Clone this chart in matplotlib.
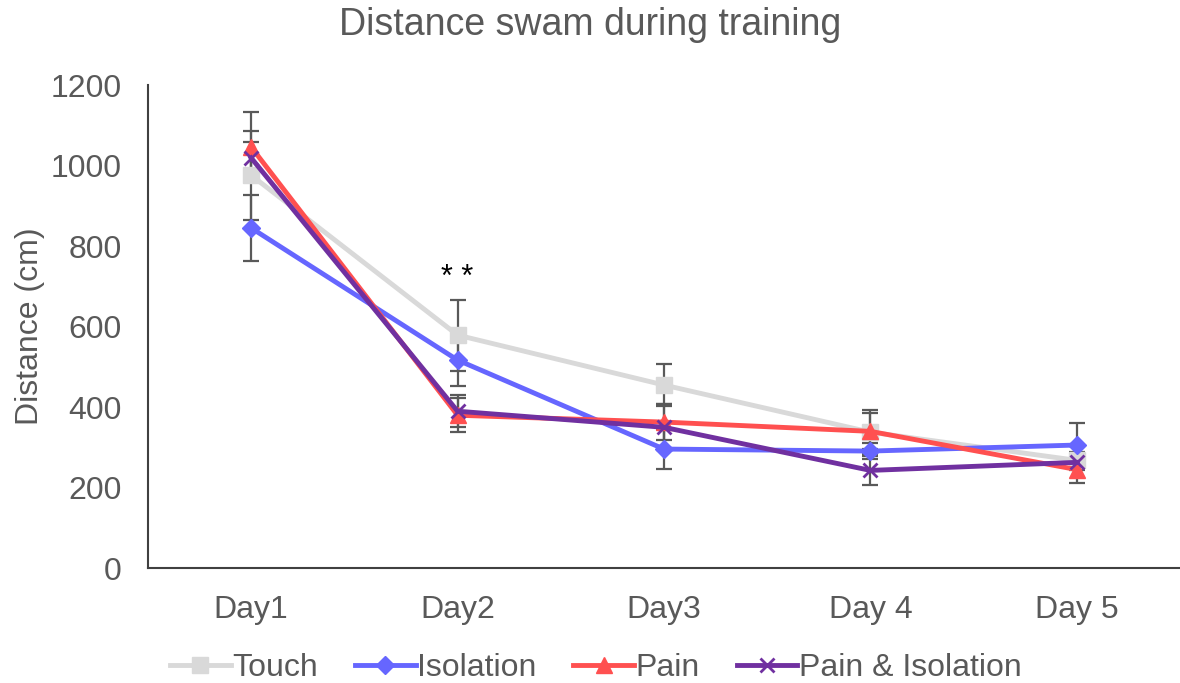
import matplotlib

matplotlib.use("Agg")
import matplotlib.pyplot as plt

plt.rcParams["font.family"] = ["Liberation Sans", "DejaVu Sans"]

days = ["Day1", "Day2", "Day3", "Day 4", "Day 5"]

touch = [976, 579, 455, 338, 268]
touch_err = [110, 88, 52, 55, 20]
isolation = [845, 517, 296, 291, 306]
isolation_err = [82, 65, 50, 20, 54]
pain = [1046, 380, 363, 340, 245]
pain_err = [87, 42, 45, 45, 34]
pain_iso = [1019, 390, 350, 243, 263]
pain_iso_err = [40, 40, 57, 37, 20]

series = [
    ("Touch", touch, touch_err, "#D9D9D9", "s", 11),
    ("Isolation", isolation, isolation_err, "#6666FF", "D", 9),
    ("Pain", pain, pain_err, "#FF5050", "^", 11),
    ("Pain & Isolation", pain_iso, pain_iso_err, "#7030A0", "x", 10),
]

TEXT = "#595959"

fig = plt.figure(figsize=(11.8, 6.83), dpi=100)
ax = fig.add_axes([0.1254, 0.168, 0.8746, 0.7075])

x = list(range(len(days)))
for name, ys, err, color, marker, ms in series:
    ax.errorbar(x, ys, yerr=err, fmt="none", ecolor="#595959",
                elinewidth=1.6, capsize=6, capthick=1.6, zorder=2)
    ax.plot(x, ys, color=color, lw=3.5, marker=marker, ms=ms,
            mew=2 if marker == "x" else 1, mec=color, mfc=color,
            label=name, zorder=3)

ax.text(1, 720, "* *", ha="center", va="center", fontsize=22, color="black")

ax.set_xlim(-0.5, 4.5)
ax.set_ylim(0, 1200)
ax.set_yticks(range(0, 1201, 200))
ax.set_xticks(x)
ax.set_xticklabels(days)
ax.tick_params(axis="both", length=0, labelsize=23, labelcolor=TEXT)
ax.tick_params(axis="x", pad=19)
ax.tick_params(axis="y", pad=19)
for s in ("top", "right"):
    ax.spines[s].set_visible(False)
for s in ("left", "bottom"):
    ax.spines[s].set_color("#404040")
    ax.spines[s].set_linewidth(1.5)

ax.set_ylabel("Distance (cm)", fontsize=23, color=TEXT, labelpad=4)
fig.suptitle("Distance swam during training", x=0.5, y=0.99,
             fontsize=27, color=TEXT)

fig.legend(loc="center", bbox_to_anchor=(0.505, 0.022),
           ncol=4, frameon=False, fontsize=23, labelcolor=TEXT,
           handlelength=1.9, handletextpad=0.05, columnspacing=1.15)

fig.savefig("out.png", dpi=100)
